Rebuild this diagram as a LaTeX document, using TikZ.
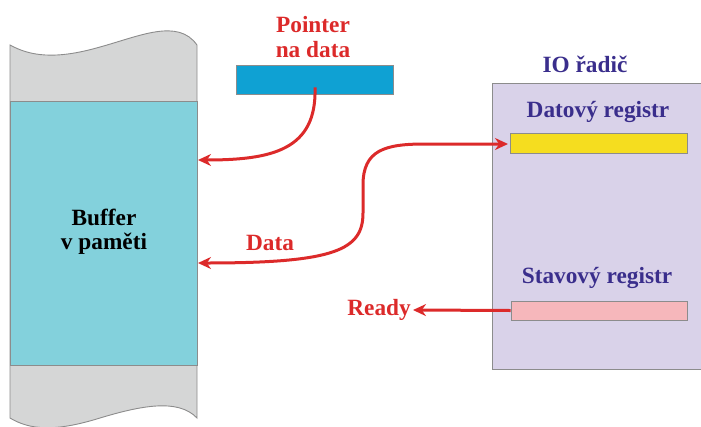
\documentclass[tikz,border=0pt]{standalone}
\usepackage{fontspec}
\setmainfont{Liberation Serif}
\usetikzlibrary{arrows.meta,positioning}

\definecolor{memgray}{HTML}{D5D6D6}
\definecolor{edgegray}{HTML}{8C8C8C}
\definecolor{bufcyan}{HTML}{83D1DC}
\definecolor{ptrblue}{HTML}{0FA1D3}
\definecolor{iolilac}{HTML}{D9D2E9}
\definecolor{regyellow}{HTML}{F5DD1F}
\definecolor{regpink}{HTML}{F6B7BB}
\definecolor{arrred}{HTML}{DC2A2A}
\definecolor{txtblue}{HTML}{3A2E8C}

\tikzset{
  reg/.style={draw=edgegray, line width=0.9pt, inner sep=0pt},
  lbl/.style={font=\bfseries\fontsize{23.3}{24.5}\selectfont, inner sep=2pt, align=center},
  redtip/.tip={Stealth[length=13pt,width=12pt]},
  arr/.style={draw=arrred, line width=3pt, -redtip}
}

\begin{document}
\begin{tikzpicture}[x=1pt, y=-1pt]
    \useasboundingbox (0,0) rectangle (701,426);

    % memory strip
    \filldraw[fill=memgray, draw=edgegray, line width=0.9pt]
      (10,45) .. controls (30,56) and (55,60) .. (100,47)
              .. controls (140,36) and (178,18) .. (197,45)
      -- (197,418)
              .. controls (178,398) and (140,406) .. (100,418)
              .. controls (55,432) and (30,430) .. (10,418)
      -- cycle;
    \node[reg, fill=bufcyan, minimum width=187pt, minimum height=264pt] (buf) at (103.5,233) {};
    \node[lbl] (buftext) at (104,232) {Buffer\\v paměti};

    % pointer
    \node[reg, fill=ptrblue, minimum width=157pt, minimum height=29pt] (ptr) at (315,79.5) {};
    \node[lbl, text=arrred] (ptrtext) at (313,37) {Pointer\\na data};

    % IO controller
    \fill[iolilac] (492,83) rectangle (701,369);
    \draw[edgegray, line width=0.9pt] (701,83) -- (492,83) -- (492,369) -- (701,369);
    \node[lbl, text=txtblue] (iotext) at (585,64) {IO řadič};
    \node[lbl, text=txtblue] (dattext) at (598,112) {Datový registr};
    \node[reg, fill=regyellow, minimum width=177pt, minimum height=20pt] (dat) at (599,143) {};
    \node[lbl, text=txtblue] (stavtext) at (597,278) {Stavový registr};
    \node[reg, fill=regpink, minimum width=176pt, minimum height=19pt] (stav) at (599,310.5) {};

    \coordinate (ptrin) at (198,160);
    \coordinate (datin) at (198,263);
    \coordinate (datout) at (508,144);
    \node[lbl, text=arrred] (datatext) at (270,243) {Data};
    \node[lbl, text=arrred, anchor=east] (ready) at (413,310) {Ready};

    \draw[arr] ([yshift=7pt]ptr.south) .. controls (317,150) and (272,160) .. (ptrin);
    \draw[arr, redtip-redtip]
      (datin) .. controls (335,263) and (363,250) .. (363,213)
      -- (363,185) .. controls (363,150) and (385,144) .. (425,144) -- (datout);
    \draw[arr] (stav.west) -- (ready.east);
\end{tikzpicture}
\end{document}
